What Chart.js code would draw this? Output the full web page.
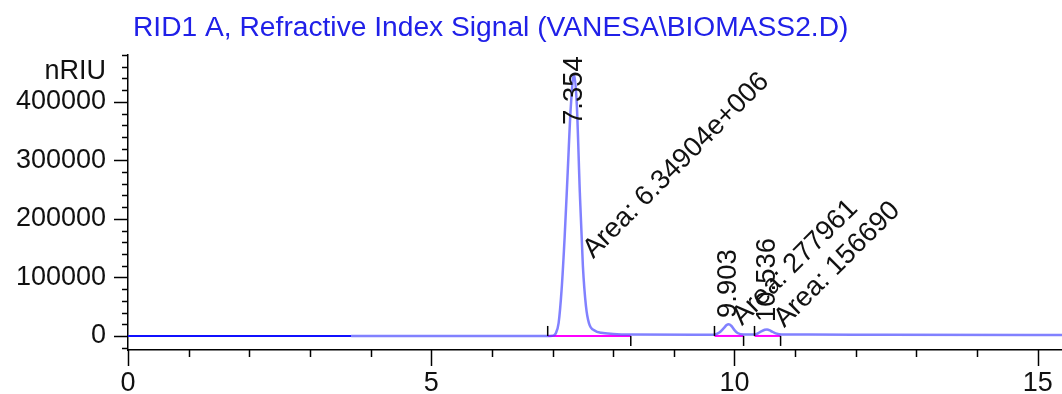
<!DOCTYPE html>
<html>
<head>
<meta charset="utf-8">
<script src="https://cdn.jsdelivr.net/npm/chart.js@4/dist/chart.umd.min.js"></script>
<style>
  body { margin: 0; background: #fff; }
  #wrap { width: 1062px; height: 394px; position: relative; }
</style>
</head>
<body>
<div id="wrap"><canvas id="rid"></canvas></div>
<script>
// signal before the darker part ends (min, nRIU)
var earlyTimes = [0, 3.68];
var earlySignal = [0, 0];

// rest of the trace
var traceTimes = [3.68, 6.9, 7.0, 7.05, 7.1, 7.15, 7.2, 7.25, 7.3, 7.354, 7.4, 7.45, 7.5, 7.55, 7.6, 7.7, 7.8, 8.0, 8.3,
  9.65, 9.75, 9.82, 9.87, 9.903, 9.95, 10.0, 10.05, 10.15, 10.33, 10.42, 10.5, 10.536, 10.6, 10.68, 10.78, 11.2, 12.5, 15.4];
var traceSignal = [0, 0, 500, 4000, 22000, 80000, 170000, 280000, 390000, 448000, 395000, 245000, 120000, 52000, 22000, 9000, 5500, 3500, 2500,
  2000, 6000, 13000, 18500, 20000, 17000, 10000, 5000, 2500, 2500, 6500, 10500, 11000, 8500, 4500, 2500, 2500, 2000, 1500];

// integrated peaks
var peakTimes = [7.354, 9.903, 10.536];
var peakAreas = ['6.34904e+006', '277961', '156690'];
var peakStarts = [6.92, 9.67, 10.33];
var peakEnds = [8.29, 10.15, 10.76];

var xTickValues = [0, 5, 10, 15];
var yTickValues = [0, 100000, 200000, 300000, 400000];

function pts(xs, ys) {
  return xs.map(function(t, i) { return { x: t, y: ys[i] }; });
}

var datasets = [
  { data: pts(earlyTimes, earlySignal), borderColor: '#1010ff', borderWidth: 2, pointRadius: 0 },
  { data: pts(traceTimes, traceSignal), borderColor: 'rgba(75,75,255,0.7)', borderWidth: 2.5,
    pointRadius: 0, cubicInterpolationMode: 'monotone' }
];
peakStarts.forEach(function(s, i) {
  datasets.push({ data: [{ x: s, y: 0 }, { x: peakEnds[i], y: 0 }], borderColor: '#ff00ff', borderWidth: 2, pointRadius: 0 });
});

var FONT = 'Liberation Sans, Arial, sans-serif';

var decor = {
  id: 'decor',
  afterDraw: function(chart) {
    var ctx = chart.ctx, xs = chart.scales.x, ys = chart.scales.y;
    var x0 = xs.left, y0 = ys.bottom;
    ctx.save();
    ctx.strokeStyle = '#000';
    ctx.lineWidth = 1.5;
    // x ticks
    for (var t = 0; t <= 15; t++) {
      var px = Math.round(xs.getPixelForValue(t)) + 0.5;
      var len = (t % 5 === 0) ? 16 : 7;
      ctx.beginPath(); ctx.moveTo(px, y0); ctx.lineTo(px, y0 + len); ctx.stroke();
    }
    // y ticks
    for (var v = -20000; v <= 480000; v += 20000) {
      var py = Math.round(ys.getPixelForValue(v)) + 0.5;
      var l = (v % 100000 === 0) ? 14 : 6;
      ctx.beginPath(); ctx.moveTo(x0 - l, py); ctx.lineTo(x0, py); ctx.stroke();
    }
    // unit label
    ctx.fillStyle = '#111';
    ctx.font = '27px ' + FONT;
    ctx.textAlign = 'right';
    ctx.textBaseline = 'middle';
    ctx.fillText('nRIU', x0 - 22, ys.getPixelForValue(452000));

    // integration markers
    ctx.lineWidth = 1.5;
    peakStarts.forEach(function(s, i) {
      var a = xs.getPixelForValue(s), b = xs.getPixelForValue(peakEnds[i]), z = ys.getPixelForValue(0);
      ctx.beginPath(); ctx.moveTo(a, z); ctx.lineTo(a, z - 10); ctx.stroke();
      ctx.beginPath(); ctx.moveTo(b, z); ctx.lineTo(b, z + 10); ctx.stroke();
    });

    // peak labels
    var startY = [125, 318, 322];
    var areaDx = [14, 8, 12];
    var areaY = [254, 321, 323];
    ctx.font = '27.5px ' + FONT;
    ctx.fillStyle = '#111';
    peakTimes.forEach(function(pt, i) {
      var px = xs.getPixelForValue(pt);
      ctx.save();
      ctx.translate(px, startY[i]);
      ctx.rotate(-Math.PI / 2);
      ctx.textAlign = 'left'; ctx.textBaseline = 'middle';
      ctx.fillText(pt.toFixed(3), 0, 0);
      ctx.restore();
      ctx.save();
      ctx.translate(px + areaDx[i], areaY[i]);
      ctx.rotate(-Math.PI / 4);
      ctx.textAlign = 'left'; ctx.textBaseline = 'middle';
      ctx.fillText('Area: ' + peakAreas[i], 0, 0);
      ctx.restore();
    });

    // title
    ctx.fillStyle = '#2020e8';
    ctx.font = '28.2px ' + FONT;
    ctx.textAlign = 'left';
    ctx.textBaseline = 'alphabetic';
    ctx.fillText('RID1 A, Refractive Index Signal (VANESA\\BIOMASS2.D)', 133, 36);
    ctx.restore();
  }
};

function noPad(s) { s.paddingLeft = 0; s.paddingRight = 0; s.paddingTop = 0; s.paddingBottom = 0; }

new Chart(document.getElementById('rid').getContext('2d'), {
  type: 'line',
  data: { datasets: datasets },
  plugins: [decor],
  options: {
    responsive: true,
    maintainAspectRatio: false,
    animation: false,
    layout: { padding: { top: 55, right: 0, left: 0, bottom: 0 } },
    plugins: { legend: { display: false }, tooltip: { enabled: false }, title: { display: false } },
    scales: {
      x: {
        type: 'linear',
        min: 0, max: 15.4,
        afterFit: function(s) { s.height = 44; noPad(s); },
        afterBuildTicks: function(s) { s.ticks = xTickValues.map(function(v) { return { value: v }; }); },
        grid: { display: false, drawTicks: false },
        border: { display: true, color: '#000', width: 1.5 },
        ticks: { padding: 17, color: '#111', font: { family: FONT, size: 27 } }
      },
      y: {
        min: -24000, max: 480000,
        afterFit: function(s) { s.width = 128; noPad(s); },
        afterBuildTicks: function(s) { s.ticks = yTickValues.map(function(v) { return { value: v }; }); },
        grid: { display: false, drawTicks: false },
        border: { display: true, color: '#000', width: 1.5 },
        ticks: { padding: 22, color: '#111', font: { family: FONT, size: 27 },
          callback: function(v) { return String(v); } }
      }
    }
  }
});
</script>
</body>
</html>
